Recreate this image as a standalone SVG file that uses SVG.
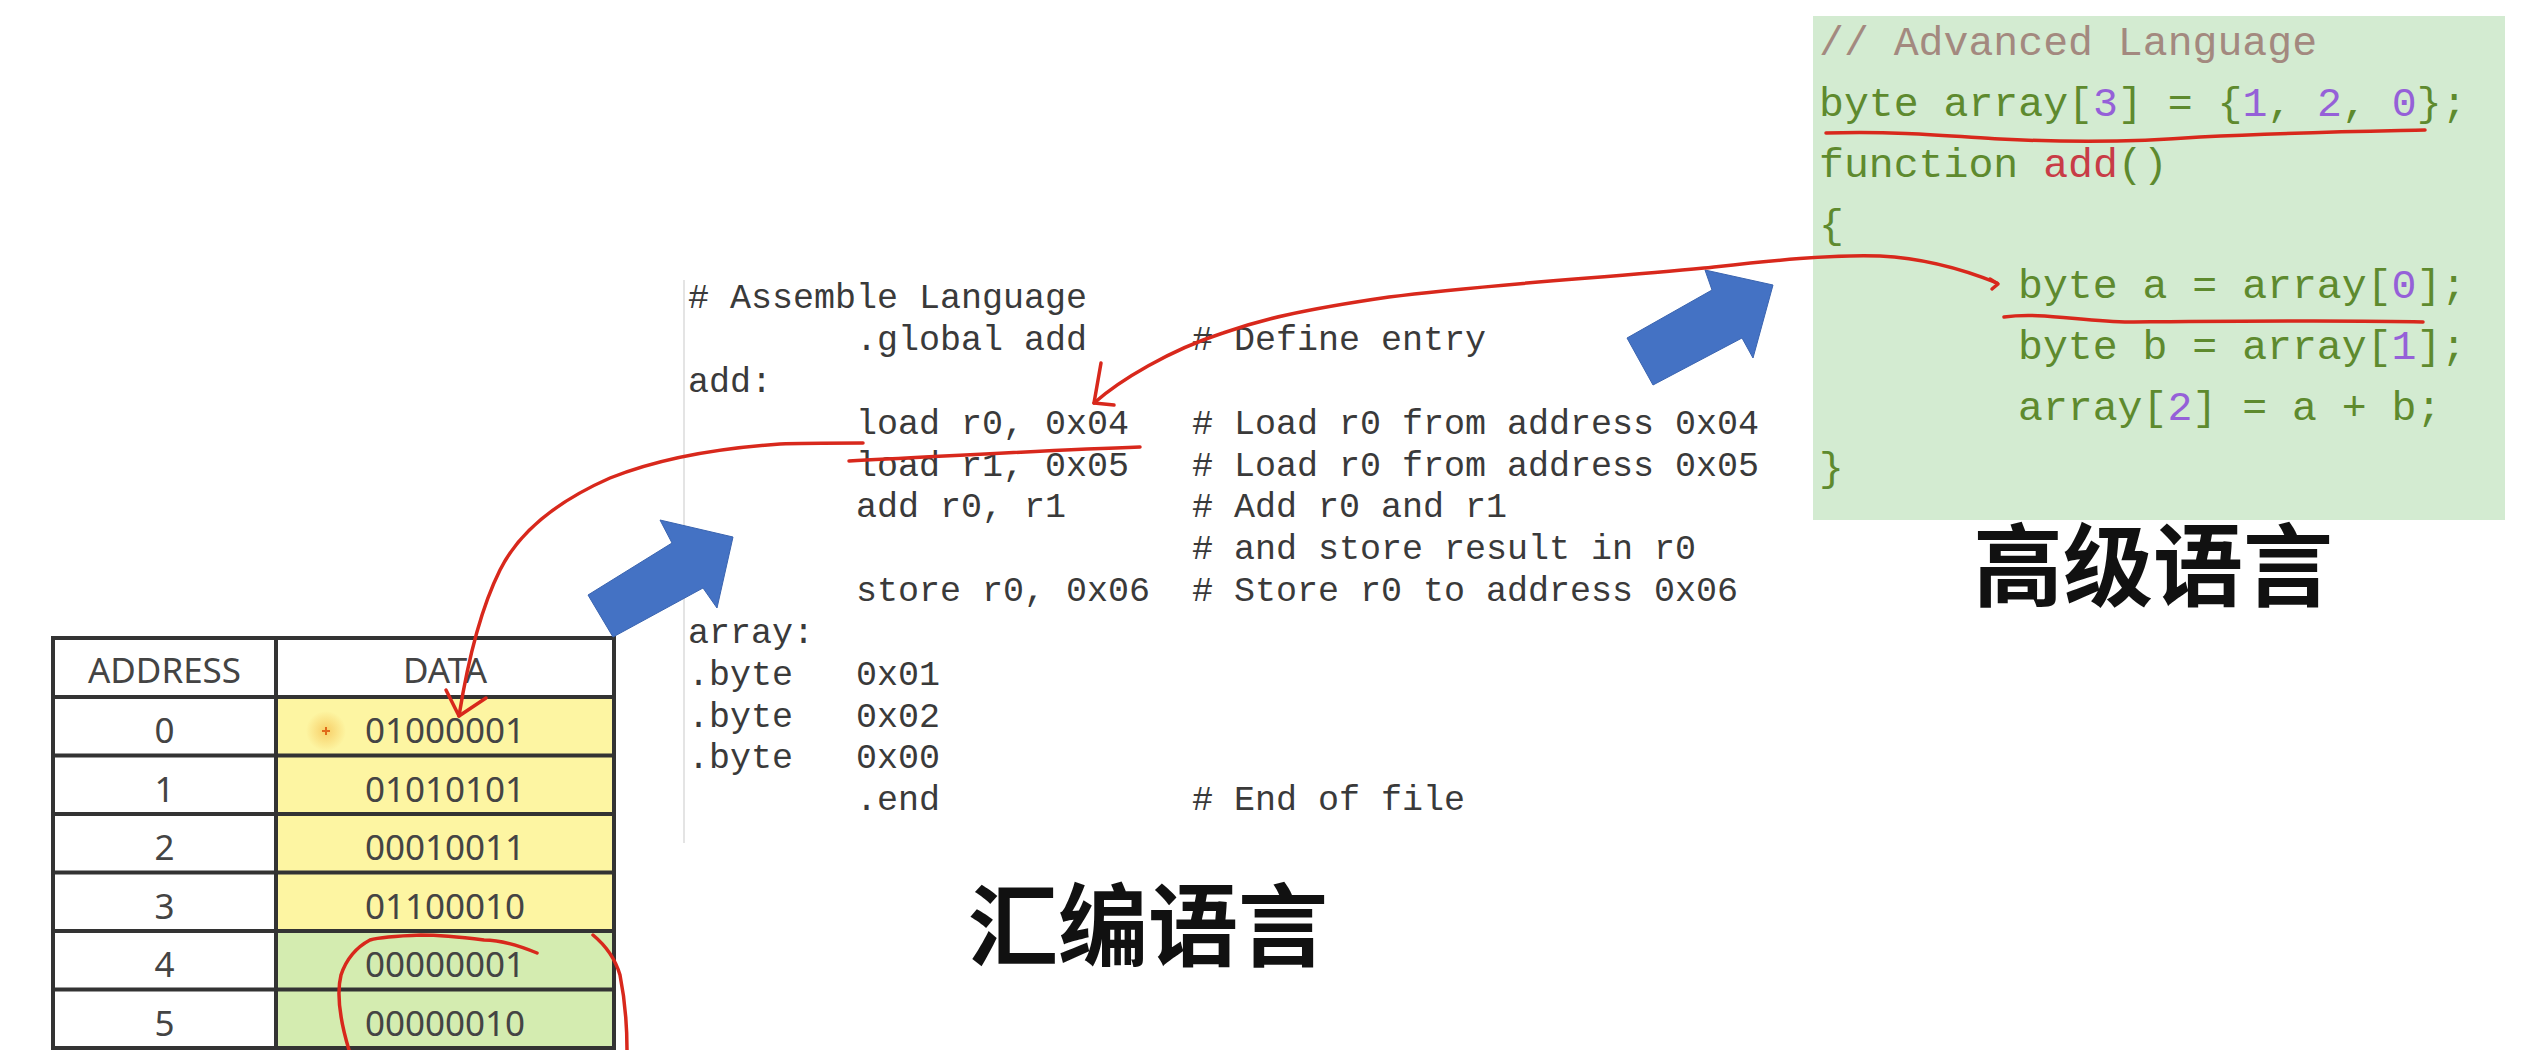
<svg xmlns="http://www.w3.org/2000/svg" width="2534" height="1050" viewBox="0 0 2534 1050">
<defs>
<style>
.asm{font-family:"Liberation Mono","DejaVu Sans Mono",monospace;font-size:35px;fill:#3a3a3a}
.hl{font-family:"Liberation Mono","DejaVu Sans Mono",monospace;font-size:41.5px}
.g{fill:#5e8a2e}.p{fill:#9560d8}.r{fill:#c83c46}.c{fill:#a3897f}
.tb{font-family:"Noto Sans","Open Sans",sans-serif;font-size:35px;fill:#444;text-anchor:middle}
.cn{font-family:"Noto Sans CJK SC","Noto Sans",sans-serif;font-size:90px;font-weight:700;fill:#111}
.grid{stroke:#333;stroke-width:4;fill:none}
.red{fill:none;stroke:#d8281c;stroke-width:3.5;stroke-linecap:round;stroke-linejoin:round}
.blue{fill:#4472c4;stroke:#3a64b0;stroke-width:1}
</style>
<radialGradient id="glow"><stop offset="0" stop-color="#f0a020" stop-opacity="0.45"/><stop offset="1" stop-color="#f0a020" stop-opacity="0"/></radialGradient>
</defs>
<rect width="2534" height="1050" fill="#ffffff"/>

<g id="memory-table">
<rect x="276" y="697" width="338" height="234" fill="#fdf5a2"/>
<rect x="276" y="931" width="338" height="117" fill="#d4ecb0"/>
<rect x="53" y="638" width="561" height="410" class="grid"/>
<line x1="276" y1="638" x2="276" y2="1048" class="grid"/>
<line x1="53" y1="697" x2="614" y2="697" class="grid"/>
<line x1="53" y1="755.5" x2="614" y2="755.5" class="grid"/>
<line x1="53" y1="814" x2="614" y2="814" class="grid"/>
<line x1="53" y1="872.5" x2="614" y2="872.5" class="grid"/>
<line x1="53" y1="931" x2="614" y2="931" class="grid"/>
<line x1="53" y1="989.5" x2="614" y2="989.5" class="grid"/>
<text class="tb" x="164.5" y="683">ADDRESS</text>
<text class="tb" x="445" y="683">DATA</text>
<text class="tb" x="164.5" y="743">0</text><text class="tb" x="445" y="743">01000001</text>
<text class="tb" x="164.5" y="801.5">1</text><text class="tb" x="445" y="801.5">01010101</text>
<text class="tb" x="164.5" y="860">2</text><text class="tb" x="445" y="860">00010011</text>
<text class="tb" x="164.5" y="918.5">3</text><text class="tb" x="445" y="918.5">01100010</text>
<text class="tb" x="164.5" y="977">4</text><text class="tb" x="445" y="977">00000001</text>
<text class="tb" x="164.5" y="1035.5">5</text><text class="tb" x="445" y="1035.5">00000010</text>
<circle cx="326" cy="731" r="20" fill="url(#glow)"/>
<path d="M322,731 H330 M326,727 V735" stroke="#e06a1a" stroke-width="2"/>
</g>

<g id="assembly-code">
<line x1="684" y1="280" x2="684" y2="843" stroke="#e4e4e4" stroke-width="2"/>
<text class="asm" x="688" y="308">#</text><text class="asm" x="730" y="308">Assemble Language</text>
<text class="asm" x="856" y="350">.global add</text><text class="asm" x="1192" y="350"># Define entry</text>
<text class="asm" x="688" y="392">add:</text>
<text class="asm" x="856" y="434">load r0, 0x04</text><text class="asm" x="1192" y="434"># Load r0 from address 0x04</text>
<text class="asm" x="856" y="476">load r1, 0x05</text><text class="asm" x="1192" y="476"># Load r0 from address 0x05</text>
<text class="asm" x="856" y="517">add r0, r1</text><text class="asm" x="1192" y="517"># Add r0 and r1</text>
<text class="asm" x="1192" y="559"># and store result in r0</text>
<text class="asm" x="856" y="601">store r0, 0x06</text><text class="asm" x="1192" y="601"># Store r0 to address 0x06</text>
<text class="asm" x="688" y="643">array:</text>
<text class="asm" x="688" y="685">.byte</text><text class="asm" x="856" y="685">0x01</text>
<text class="asm" x="688" y="727">.byte</text><text class="asm" x="856" y="727">0x02</text>
<text class="asm" x="688" y="768">.byte</text><text class="asm" x="856" y="768">0x00</text>
<text class="asm" x="856" y="810">.end</text><text class="asm" x="1192" y="810"># End of file</text>
</g>

<g id="high-level-code">
<rect x="1813" y="16" width="692" height="504" fill="#d3ebd1"/>
<text class="hl c" x="1819" y="55">// Advanced Language</text>
<text class="hl" x="1819" y="116" xml:space="preserve"><tspan class="g">byte array[</tspan><tspan class="p">3</tspan><tspan class="g">] = {</tspan><tspan class="p">1</tspan><tspan class="g">, </tspan><tspan class="p">2</tspan><tspan class="g">, </tspan><tspan class="p">0</tspan><tspan class="g">};</tspan></text>
<text class="hl" x="1819" y="177" xml:space="preserve"><tspan class="g">function </tspan><tspan class="r">add</tspan><tspan class="g">()</tspan></text>
<text class="hl g" x="1819" y="238">{</text>
<text class="hl" x="2018" y="298" xml:space="preserve"><tspan class="g">byte a = array[</tspan><tspan class="p">0</tspan><tspan class="g">];</tspan></text>
<text class="hl" x="2018" y="359" xml:space="preserve"><tspan class="g">byte b = array[</tspan><tspan class="p">1</tspan><tspan class="g">];</tspan></text>
<text class="hl" x="2018" y="420" xml:space="preserve"><tspan class="g">array[</tspan><tspan class="p">2</tspan><tspan class="g">] = a + b;</tspan></text>
<text class="hl g" x="1819" y="481">}</text>
</g>

<g id="label-assembly"><text class="cn" x="968" y="959">汇编语言</text></g>
<g id="label-high-level"><text class="cn" x="1973" y="599">高级语言</text></g>

<g id="connectors">
<polygon class="blue" points="588,595 613,637 703,588 717,608 733,537 660,520 672,543"/>
<polygon class="blue" points="1627,338 1653,385 1742,338 1753,358 1773,285 1705,270 1712,290"/>
<path class="red" d="M1826,133 C1900,131 1950,136 2000,139 C2080,143 2150,141 2200,137 C2300,132 2380,131 2425,130"/>
<path class="red" d="M2004,317 C2040,312 2080,321 2130,322 C2250,321 2350,320 2423,322"/>
<path class="red" d="M1997,283 C1960,268 1920,258 1880,256 C1830,254 1760,262 1704,268 C1600,278 1480,285 1389,297 C1300,310 1260,320 1223,333 C1170,350 1120,380 1094,403"/>
<path class="red" d="M1101,363 L1094,403 L1114,405"/>
<path class="red" d="M1990,279 L1998,284 L1992,289"/>
<path class="red" d="M863,443 C830,443 800,443 780,444 C720,448 660,458 610,478 C560,500 520,530 500,570 C480,610 468,660 459,716"/>
<path class="red" d="M446,690 L459,716 L486,698"/>
<path class="red" d="M849,461 C950,456 1050,450 1140,447"/>
<path class="red" d="M537,953 C520,946 500,940 484,940 C460,937 440,935 421,935 C395,936 380,937 370,940 C355,948 346,960 341,975 C336,995 340,1020 349,1050"/>
<path class="red" d="M593,935 C605,945 615,958 620,975 C625,1000 627,1025 627,1050"/>
</g>
</svg>
